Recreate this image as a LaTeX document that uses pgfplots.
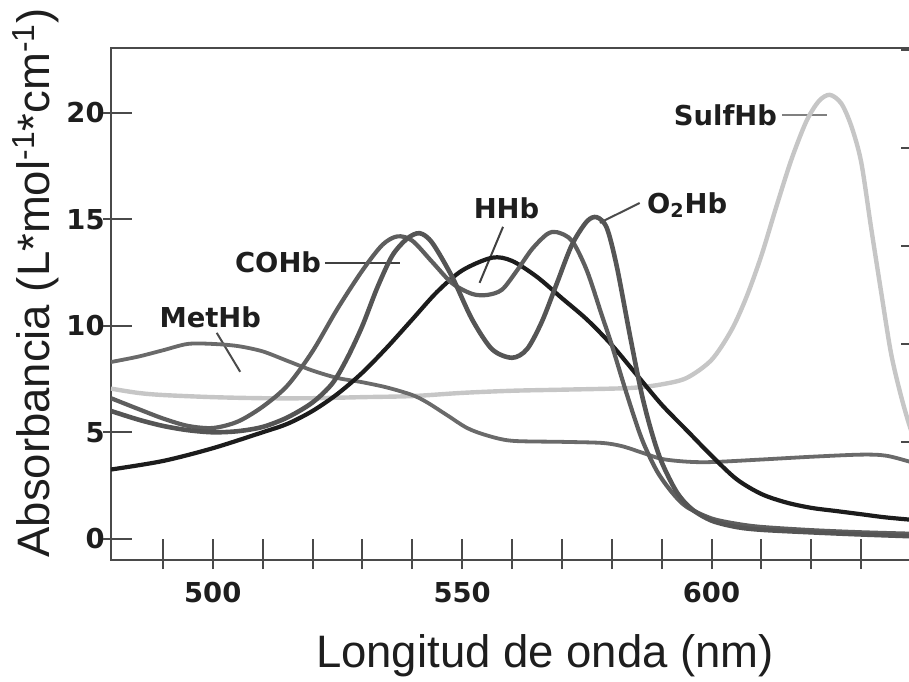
\documentclass[border=0pt]{standalone}
\usepackage{pgfplots}
\pgfplotsset{compat=1.18}
\usepackage{fontspec}
\setmainfont{Liberation Sans}
\newfontfamily\lblfont{DejaVu Sans}
\definecolor{axiscol}{HTML}{4A4A4A}
\definecolor{txtcol}{HTML}{1E1E1E}
\definecolor{sulfcol}{HTML}{C6C6C6}
\definecolor{hhbcol}{HTML}{1C1C1C}
\definecolor{cohbcol}{HTML}{5E5E5E}
\definecolor{ohbcol}{HTML}{555555}
\definecolor{methcol}{HTML}{6A6A6A}
\begin{document}
\begin{tikzpicture}
\useasboundingbox (-55.5pt,-60.5pt) rectangle (399pt,280pt);
\begin{axis}[
  at={(0pt,0pt)}, anchor=south west,
  scale only axis, width=405pt, height=256pt,
  xmin=479.6, xmax=642, ymin=-1, ymax=23.05,
  axis line style={draw=axiscol, line width=1.3pt},
  every tick/.style={draw=axiscol, line width=1pt},
  tick align=inside, major tick length=10.5pt,
  xtick pos=left, ytick pos=left,
  xtick={490,500,...,640},
  xticklabels={,500,,,,,550,,,,,600,,,,},
  ytick={0,5,10,15,20},
  extra x ticks={490,500,...,640}, extra x tick labels={},
  extra y ticks={0,5,10,15,20}, extra y tick labels={},
  extra x tick style={tick align=outside, major tick length=4.5pt},
  extra y tick style={tick align=outside, major tick length=4pt},
  /pgf/number format/assume math mode=true,
  ticklabel style={font=\lblfont\bfseries\fontsize{13.7}{15}\selectfont, text=txtcol},
  xticklabel style={inner sep=0pt, yshift=-11pt},
  yticklabel style={inner sep=0pt, xshift=-3pt},
  clip=true,
  every axis plot/.append style={smooth, tension=0.5},
]
% leader lines
\draw[color=axiscol!70, line width=1.2pt] (axis cs:614.1,19.9) -- (axis cs:623.1,19.9);
\draw[color=txtcol!80, line width=1pt] (axis cs:585.6,15.77) -- (axis cs:577.6,14.84);
\draw[color=txtcol!85, line width=1pt] (axis cs:558.2,14.65) -- (axis cs:553.5,12.02);
\draw[color=txtcol!85, line width=1pt] (axis cs:522.5,12.96) -- (axis cs:537.5,12.96);
\draw[color=txtcol!80, line width=1pt] (axis cs:500.8,9.67) -- (axis cs:505.5,7.84);
% SulfHb
\addplot[color=sulfcol, line width=2.2pt] coordinates {
(479.6,7.05) (485,6.85) (490,6.75) (500,6.65) (510,6.6) (520,6.6) (530,6.65) (540,6.7)
(550,6.85) (560,6.95) (570,7.0) (580,7.05) (585,7.1) (590,7.25) (595,7.55) (600,8.4)
(604,9.8) (607,11.35) (610,13.3) (613,15.6) (616,17.8) (619,19.6) (621.5,20.55)
(623.7,20.85) (626,20.45) (628,19.4) (630,17.7) (632,14.6) (634,11.6) (636,8.7) (638,6.7)
(640,5.1) (642,4.0)};
% MetHb
\addplot[color=methcol, line width=1.9pt] coordinates {
(479.6,8.3) (485,8.55) (490,8.85) (495,9.15) (500,9.15) (505,9.05) (510,8.8) (515,8.35)
(520,7.9) (525,7.55) (530,7.35) (535,7.1) (540,6.75) (543,6.4) (547,5.8) (551,5.2)
(555,4.85) (560,4.6) (570,4.55) (578,4.5) (582,4.35) (586,4.05) (590,3.75) (595,3.62)
(600,3.6) (610,3.72) (620,3.85) (630,3.95) (635,3.9) (640,3.6) (642,3.45)};
% HHb
\addplot[color=hhbcol, line width=2.1pt] coordinates {
(479.6,3.25) (490,3.65) (500,4.25) (510,5.0) (515,5.4) (520,6.0) (525,6.8) (530,7.8)
(535,9.0) (540,10.3) (545,11.6) (550,12.6) (556,13.2) (560,13.05) (565,12.3) (570,11.3)
(575,10.3) (580,9.1) (585,7.7) (590,6.3) (595,5.1) (600,3.9) (605,2.8) (610,2.1)
(615,1.7) (620,1.45) (625,1.3) (630,1.15) (635,1.0) (642,0.85)};
% COHb
\addplot[color=cohbcol, line width=2.1pt] coordinates {
(479.6,6.6) (485,6.1) (490,5.65) (495,5.3) (500,5.2) (505,5.5) (510,6.2) (515,7.2)
(520,8.8) (525,10.8) (530,12.6) (534,13.8) (537,14.2) (540,14.0) (544,13.0) (548,12.0)
(552,11.5) (555,11.45) (558,11.7) (561,12.6) (564,13.6) (567,14.3) (569,14.4) (572,14.0)
(575,12.6) (578,10.5) (580,9.1) (583,6.8) (586,4.7) (589,3.2) (592,2.2) (595,1.5)
(600,0.95) (605,0.7) (610,0.55) (620,0.4) (630,0.3) (642,0.22)};
% O2Hb
\addplot[color=ohbcol, line width=2.3pt] coordinates {
(479.6,6.0) (485,5.6) (490,5.3) (495,5.1) (500,5.0) (505,5.05) (510,5.25) (515,5.7)
(520,6.4) (524,7.3) (527,8.5) (530,10.0) (533,11.8) (536,13.3) (539,14.1) (541.5,14.35)
(544,13.9) (548,12.3) (552,10.3) (556,8.9) (560,8.5) (563,8.9) (566,10.2) (569,12.0)
(572,13.8) (575,14.9) (577,15.1) (579,14.6) (581,12.8) (583.6,9.6) (586,6.8) (588,5.0)
(590,3.6) (593,2.2) (596,1.4) (600,0.85) (605,0.55) (610,0.42) (620,0.3) (630,0.2) (642,0.1)};
% labels
\tikzset{lbl/.style={font=\lblfont\bfseries\fontsize{13.7}{15}\selectfont, text=txtcol, inner sep=0pt, text depth=0pt}}
\node[lbl] at (axis cs:602.8,19.9) {SulfHb};
\node[lbl, anchor=west] at (axis cs:587.0,15.77) {O\textsubscript{2}Hb};
\node[lbl] at (axis cs:558.9,15.54) {HHb};
\node[lbl] at (axis cs:513.1,13.0) {COHb};
\node[lbl] at (axis cs:499.5,10.42) {MetHb};
\end{axis}
\begin{axis}[
  at={(0pt,0pt)}, anchor=south west,
  scale only axis, width=405pt, height=256pt,
  xmin=479.6, xmax=642, ymin=-1, ymax=23.05,
  hide x axis, axis y line*=right,
  axis line style={draw=axiscol, line width=1.3pt},
  every tick/.style={draw=axiscol, line width=1pt},
  tick align=inside, major tick length=10pt,
  ytick={4.55,9.15,13.76,18.36,22.96}, yticklabels={},
]
\end{axis}
\node[rotate=90, anchor=base, text=txtcol, font=\fontsize{22.75}{26}\selectfont] at (-30.5pt,138.5pt) {Absorbancia (L*mol\textsuperscript{-1}*cm\textsuperscript{-1})};
\node[anchor=base, text=txtcol, font=\fontsize{22.75}{26}\selectfont] at (217pt,-53.5pt) {Longitud de onda (nm)};
\end{tikzpicture}
\end{document}
